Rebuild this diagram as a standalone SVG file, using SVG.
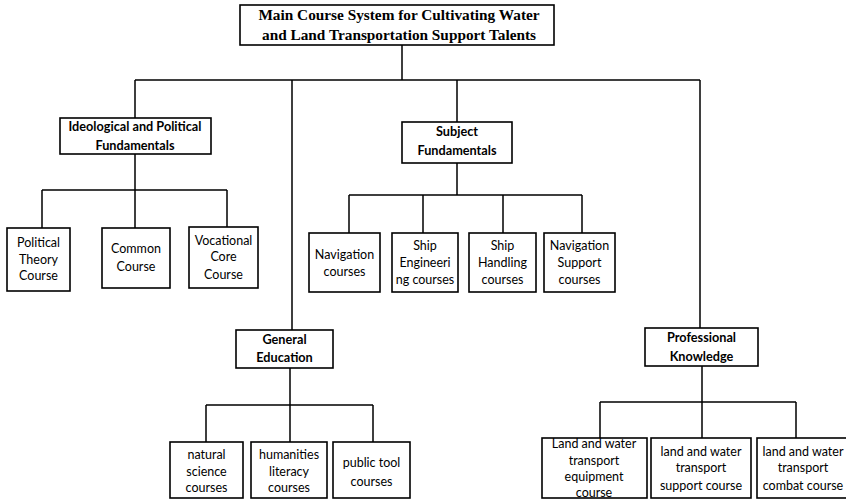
<svg xmlns="http://www.w3.org/2000/svg" width="846" height="501" viewBox="0 0 846 501">
<style>
.box{fill:#fff;stroke:#000;stroke-width:1.6}
.ln{fill:none;stroke:#000;stroke-width:1.5}
.t{font-family:Lato,"Open Sans","Liberation Sans",sans-serif;font-size:12.5px;fill:#000;text-anchor:middle}
.b{font-weight:bold;font-size:12.7px}
.m{font-family:"Liberation Serif","Times New Roman",serif;font-size:15.3px;font-weight:bold;fill:#000;text-anchor:middle}
</style>
<rect width="846" height="501" fill="#fff"/>
<g id="connectors">
<path class="ln" d="M402 45V80M135 80H700M135 80V118M292 80V330M457 80V122M700 80V328"/>
<path class="ln" d="M135 154V190M42 190H227M42 190V228M135 190V228M227 190V227"/>
<path class="ln" d="M457 163V195M349 195H582M349 195V233M423 195V233M503 195V233M582 195V233"/>
<path class="ln" d="M290 368V405M206 405H373M206 405V442M290 405V442M373 405V442"/>
<path class="ln" d="M702 366V402M600 402H796M600 402V438M702 402V438M796 402V438"/>
</g>
<g id="main">
<rect class="box" x="240" y="5" width="314" height="40"/>
<text class="m" x="399" y="20">Main Course System for Cultivating Water</text>
<text class="m" x="399" y="40">and Land Transportation Support Talents</text>
</g>
<g id="ideological">
<rect class="box" x="60" y="118" width="151" height="36"/>
<text class="t b" x="135" y="131">Ideological and Political</text>
<text class="t b" x="135" y="150">Fundamentals</text>
</g>
<g id="political">
<rect class="box" x="7" y="228" width="63" height="63"/>
<text class="t" x="38.5" y="247">Political</text>
<text class="t" x="38.5" y="264">Theory</text>
<text class="t" x="38.5" y="280">Course</text>
</g>
<g id="common">
<rect class="box" x="102" y="228" width="68" height="60"/>
<text class="t" x="136" y="253">Common</text>
<text class="t" x="136" y="271">Course</text>
</g>
<g id="vocational">
<rect class="box" x="189" y="227" width="69" height="61"/>
<text class="t" x="223.5" y="245">Vocational</text>
<text class="t" x="223.5" y="261">Core</text>
<text class="t" x="223.5" y="279">Course</text>
</g>
<g id="subject">
<rect class="box" x="402" y="122" width="110" height="41"/>
<text class="t b" x="457" y="136">Subject</text>
<text class="t b" x="457" y="155">Fundamentals</text>
</g>
<g id="navigation">
<rect class="box" x="309" y="233" width="71" height="59"/>
<text class="t" x="344.5" y="259">Navigation</text>
<text class="t" x="344.5" y="276">courses</text>
</g>
<g id="shipeng">
<rect class="box" x="392" y="233" width="66" height="59"/>
<text class="t" x="425" y="250">Ship</text>
<text class="t" x="425" y="267">Engineeri</text>
<text class="t" x="425" y="284">ng courses</text>
</g>
<g id="shiphand">
<rect class="box" x="469" y="233" width="67" height="59"/>
<text class="t" x="502.5" y="250">Ship</text>
<text class="t" x="502.5" y="267">Handling</text>
<text class="t" x="502.5" y="284">courses</text>
</g>
<g id="navsupport">
<rect class="box" x="544" y="233" width="71" height="59"/>
<text class="t" x="579.5" y="250">Navigation</text>
<text class="t" x="579.5" y="267">Support</text>
<text class="t" x="579.5" y="284">courses</text>
</g>
<g id="general">
<rect class="box" x="236" y="330" width="97" height="38"/>
<text class="t b" x="284.5" y="344">General</text>
<text class="t b" x="284.5" y="362">Education</text>
</g>
<g id="natural">
<rect class="box" x="170" y="442" width="73" height="56"/>
<text class="t" x="206.5" y="459">natural</text>
<text class="t" x="206.5" y="476">science</text>
<text class="t" x="206.5" y="492">courses</text>
</g>
<g id="humanities">
<rect class="box" x="251" y="442" width="76" height="56"/>
<text class="t" x="289" y="459">humanities</text>
<text class="t" x="289" y="476">literacy</text>
<text class="t" x="289" y="492">courses</text>
</g>
<g id="publictool">
<rect class="box" x="333" y="442" width="77" height="56"/>
<text class="t" x="371.5" y="467">public tool</text>
<text class="t" x="371.5" y="486">courses</text>
</g>
<g id="professional">
<rect class="box" x="645" y="328" width="113" height="38"/>
<text class="t b" x="701.5" y="342">Professional</text>
<text class="t b" x="701.5" y="361">Knowledge</text>
</g>
<g id="equipment">
<rect class="box" x="542" y="438" width="105" height="60"/>
<text class="t" x="594" y="448">Land and water</text>
<text class="t" x="594" y="465">transport</text>
<text class="t" x="594" y="481">equipment</text>
<text class="t" x="594" y="497">course</text>
</g>
<g id="support">
<rect class="box" x="651" y="438" width="100" height="60"/>
<text class="t" x="701" y="456">land and water</text>
<text class="t" x="701" y="472">transport</text>
<text class="t" x="701" y="490">support course</text>
</g>
<g id="combat">
<rect class="box" x="757" y="438" width="95" height="60"/>
<text class="t" x="803" y="456">land and water</text>
<text class="t" x="803" y="472">transport</text>
<text class="t" x="803" y="490">combat course</text>
</g>
</svg>
